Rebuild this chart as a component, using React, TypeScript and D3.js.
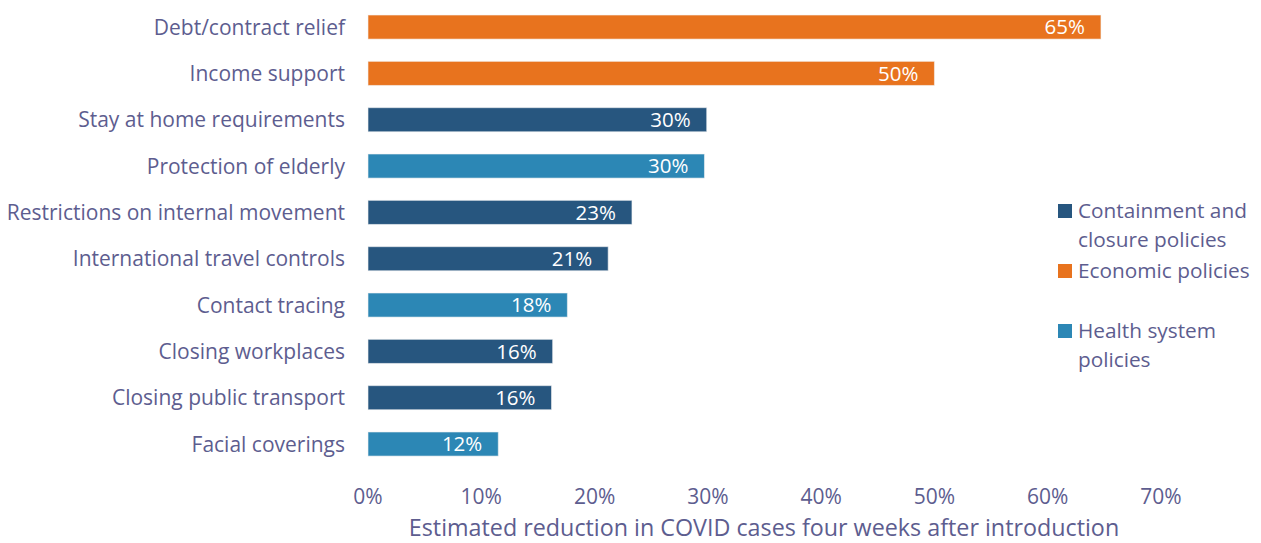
import React from "react";
import * as d3 from "d3";

const categories = [
  "Debt/contract relief",
  "Income support",
  "Stay at home requirements",
  "Protection of elderly",
  "Restrictions on internal movement",
  "International travel controls",
  "Contact tracing",
  "Closing workplaces",
  "Closing public transport",
  "Facial coverings",
];
const values = [64.7, 50.0, 29.9, 29.7, 23.3, 21.2, 17.6, 16.3, 16.2, 11.5];
const labels = ["65%", "50%", "30%", "30%", "23%", "21%", "18%", "16%", "16%", "12%"];
const groups = ["econ", "econ", "cont", "health", "cont", "cont", "health", "cont", "cont", "health"];
const ticks = [0, 10, 20, 30, 40, 50, 60, 70];
const legendItems = [
  { key: "cont", lines: ["Containment and", "closure policies"] },
  { key: "econ", lines: ["Economic policies"] },
  { key: "health", lines: ["Health system", "policies"] },
];
const colors: Record<string, string> = {
  cont: "#27567F",
  econ: "#E8731E",
  health: "#2C87B5",
};
const textColor = "#5D5D8F";
const FONT = "'Open Sans', sans-serif";

export default function App() {
  const W = 1261, H = 543;
  const x = d3.scaleLinear().domain([0, 70]).range([368, 1161]);
  const y = d3.scaleBand<string>().domain(categories).range([3.9, 467.2]).paddingInner(0.48).paddingOuter(0.24);
  const legendY = [218, 278, 338];
  const fs = 21;
  return (
    <svg width={W} height={H} style={{ position: "absolute", left: 0, top: 0, fontFamily: FONT }}>
      {categories.map((c, i) => {
        const y0 = y(c)!;
        const bw = y.bandwidth();
        return (
          <g key={c}>
            <text x={345} y={y0 + bw / 2} dy="0.36em" textAnchor="end" fill={textColor} fontSize={fs}>
              {c}
            </text>
            <rect x={x(0)} y={y0} width={x(values[i]) - x(0)} height={bw} fill={colors[groups[i]]} stroke="#f4f4f4" strokeOpacity={0.6} strokeWidth={1} />
            <text x={x(values[i]) - 16} y={y0 + bw / 2} dy="0.36em" textAnchor="end" fill="#ffffff" fontSize={20.5}>
              {labels[i]}
            </text>
          </g>
        );
      })}
      {ticks.map((t) => (
        <text key={t} x={x(t)} y={504} textAnchor="middle" fill={textColor} fontSize={fs}>
          {t}%
        </text>
      ))}
      <text x={764} y={536} textAnchor="middle" fill={textColor} fontSize={23.3}>
        Estimated reduction in COVID cases four weeks after introduction
      </text>
      {legendItems.map((it, i) => (
        <g key={it.key}>
          <rect x={1058} y={legendY[i] - 14} width={14} height={14} fill={colors[it.key]} />
          {it.lines.map((l, j) => (
            <text key={j} x={1078} y={legendY[i] + j * 29} fill={textColor} fontSize={20.8}>
              {l}
            </text>
          ))}
        </g>
      ))}
    </svg>
  );
}
